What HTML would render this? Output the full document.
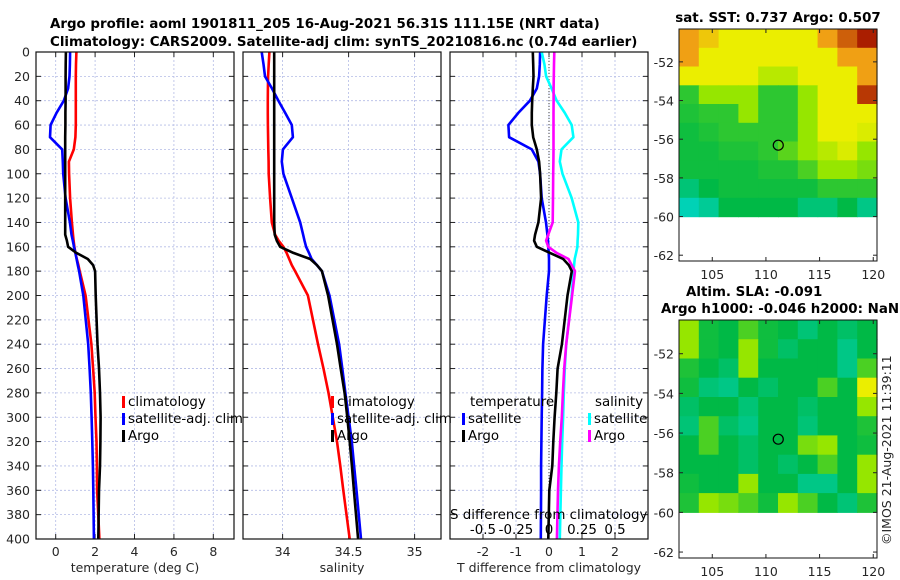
<!DOCTYPE html>
<html><head><meta charset="utf-8"><style>
html,body{margin:0;padding:0;background:#fff;}
svg{display:block;font-family:"DejaVu Sans","Liberation Sans",sans-serif;}
.tk{font-size:12.5px;fill:#262626;}
.ttl{font-size:13.4px;font-weight:bold;fill:#000;}
.lg{font-size:13.4px;fill:#000;}
</style></head><body>
<svg id="c" width="900" height="580" viewBox="0 0 900 580" xmlns="http://www.w3.org/2000/svg">
<text class="ttl" x="50" y="28">Argo profile: aoml 1901811_205 16-Aug-2021 56.31S 111.15E (NRT data)</text>
<text class="ttl" x="50" y="46">Climatology: CARS2009. Satellite-adj clim: synTS_20210816.nc (0.74d earlier)</text>
<text class="ttl" x="778" y="22" text-anchor="middle">sat. SST: 0.737 Argo: 0.507</text>
<text class="ttl" x="686" y="296">Altim. SLA: -0.091</text>
<text class="ttl" x="661" y="313">Argo h1000: -0.046 h2000: NaN</text>
<text class="tk" transform="translate(891,545) rotate(-90)">©IMOS 21-Aug-2021 11:39:11</text>
<g id="g"></g>
</svg>
<script>
// ---------- data ----------
const depth = [0,10,20,30,40,50,60,70,80,90,100,120,140,150,155,160,165,170,175,180,200,240,260,280,300,320,340,360,400];
const tempClim = [1.05,1.03,1.02,1.02,1.02,1.02,1.02,1.0,0.92,0.67,0.68,0.73,0.82,0.88,0.91,0.95,1.0,1.07,1.15,1.22,1.52,1.81,1.9,1.98,2.02,2.07,2.09,2.1,2.22];
const tempSat = [0.73,0.72,0.70,0.63,0.41,0.04,-0.26,-0.29,0.33,0.36,0.38,0.5,0.72,0.8,0.87,0.93,1.0,1.06,1.12,1.19,1.4,1.65,1.72,1.78,1.82,1.86,1.89,1.91,1.94];
const tempArgo = [0.52,0.51,0.50,0.50,0.50,0.49,0.49,0.48,0.48,0.48,0.48,0.48,0.48,0.48,0.57,0.63,1.05,1.63,1.9,2.0,2.03,2.12,2.2,2.25,2.28,2.27,2.25,2.2,2.16];
const salClim = [33.9,33.895,33.89,33.889,33.888,33.888,33.889,33.89,33.892,33.894,33.895,33.905,33.918,33.943,33.97,34.006,34.03,34.05,34.07,34.095,34.192,34.268,34.31,34.348,34.38,34.412,34.437,34.46,34.508];
const salSat = [33.842,33.855,33.867,33.92,33.968,34.02,34.07,34.078,34.002,33.994,34.006,34.07,34.133,34.155,34.166,34.178,34.2,34.22,34.26,34.298,34.355,34.428,34.452,34.476,34.5,34.524,34.542,34.56,34.594];
const salArgo = [33.936,33.936,33.936,33.936,33.936,33.936,33.936,33.936,33.936,33.936,33.936,33.936,33.936,33.94,33.956,33.981,34.082,34.209,34.26,34.298,34.345,34.412,34.44,34.47,34.49,34.508,34.525,34.54,34.572];
const dTempSat = [-0.27,-0.28,-0.3,-0.37,-0.58,-0.93,-1.23,-1.21,-0.52,-0.32,-0.27,-0.22,-0.09,-0.05,-0.03,-0.02,-0.01,0,0,0,-0.07,-0.18,-0.2,-0.21,-0.22,-0.23,-0.24,-0.24,-0.25];
const dTempArgo = [-0.49,-0.48,-0.47,-0.49,-0.51,-0.52,-0.52,-0.48,-0.37,-0.3,-0.27,-0.24,-0.32,-0.42,-0.45,-0.37,0.03,0.43,0.6,0.69,0.56,0.39,0.26,0.22,0.17,0.13,0.1,0.01,-0.02];
const dSalSat = [-0.055,-0.035,-0.022,0.02,0.058,0.12,0.172,0.185,0.095,0.082,0.102,0.172,0.222,0.22,0.217,0.215,0.205,0.195,0.19,0.185,0.172,0.13,0.12,0.112,0.107,0.1,0.095,0.09,0.082];
const dSalArgo = [0.04,0.038,0.036,0.035,0.035,0.034,0.034,0.034,0.034,0.033,0.032,0.03,0.028,-0.005,-0.022,-0.005,0.058,0.148,0.172,0.197,0.175,0.13,0.115,0.105,0.097,0.085,0.075,0.068,0.06];
const depthTicks = [0,20,40,60,80,100,120,140,160,180,200,220,240,260,280,300,320,340,360,380,400];
const tempTicks = [0,2,4,6,8];
const salTicks = [34,34.5,35];
const salTickLabels = ["34","34.5","35"];
const dTTicks = [-2,-1,0,1,2];
const dSTicks = [-0.5,-0.25,0,0.25,0.5];
const dSTickLabels = ["-0.5","-0.25","0","0.25","0.5"];
const lonTicks = [105,110,115,120];
const latTicks = [-52,-54,-56,-58,-60,-62];
const argoLon = 111.15, argoLat = -56.31;
const sstGrid = [
[4,3.5,3,3,3,3,3,4,4.5,5],
[4,3,3,3,3,3,3,3,4,4],
[3,3,3,3,2.4,2.4,3,3,3,4],
[1.3,2,2,2,1.3,1.3,2,3,3,4.8],
[1.2,1.3,1.3,2,1.3,1.3,2,3,3,3],
[1.1,1.2,1.3,1.3,1.3,1.3,2,3,3,2.8],
[1.1,1.1,1.2,1.2,1.3,1.6,2,2.4,2.8,2],
[1.1,1.1,1.1,1.1,1.2,1.2,1.5,2,2,1.8],
[0.7,1,1.1,1.1,1.1,1.1,1.1,1.3,1.3,1.3],
[0.3,0.5,1,1,1,1,0.7,0.7,1,0.6]];
const slaGrid = [
[2,1.1,1,1.5,1.1,1,0.7,1,0.8,1],
[2,1.1,1,2,1.1,0.8,1,1,0.6,1],
[1.2,1,0.8,2,1,1,1,1,0.6,1.5],
[1.1,0.7,0.6,1,0.8,1,1,1.5,1,3],
[0.8,1,1,0.7,1,1,0.8,1,1,2],
[0.7,1.5,0.8,0.6,1,1,0.7,1,1,1.2],
[1,1.5,1,0.8,1,1,1.8,2,1,1.1],
[1,1,1,0.8,1,0.8,1,1.5,1,2],
[1.1,1,1,2,1,1,0.6,0.6,1,2],
[1.2,2,1.8,1.5,1.1,2,1.5,1,0.7,1.2]];

// ---------- helpers ----------
const NS="http://www.w3.org/2000/svg";
const G=document.getElementById('g');
function el(t,a,p){const e=document.createElementNS(NS,t);for(const k in a)e.setAttribute(k,a[k]);(p||G).appendChild(e);return e;}
const y0=52,y1=539;
const yD=d=>y0+(d/400)*(y1-y0);
const panels={
 t:{x0:36,x1:234,lo:-1,hi:9.05},
 s:{x0:243,x1:441,lo:33.7,hi:35.2},
 d:{x0:450,x1:648,lo:-3,hi:3}
};
function sx(p,v){return p.x0+(v-p.lo)/(p.hi-p.lo)*(p.x1-p.x0);}
const xS=v=>sx(panels.d,v*4);

function frame(p,name,xt,xl,xtitle,showY){
  const g=el('g',{});
  
  
  depthTicks.forEach(d=>{
    const l=el('line',{x1:p.x0,x2:p.x1,y1:yD(d),y2:yD(d),stroke:'#b4bce6','stroke-width':0.8,'stroke-dasharray':'2,2'},g);
    
    
    el('line',{x1:p.x0,x2:p.x0+5,y1:yD(d),y2:yD(d),stroke:'#222'},g);
    el('line',{x1:p.x1-5,x2:p.x1,y1:yD(d),y2:yD(d),stroke:'#222'},g);
    if(showY){const t=el('text',{x:30,y:yD(d)+4.5,'text-anchor':'end',class:'tk'},g);t.textContent=d;
      
      }
  });
  xt.forEach((v,i)=>{
    const x=sx(p,v);
    const l=el('line',{x1:x,x2:x,y1:y0,y2:y1,stroke:'#b4bce6','stroke-width':0.8,'stroke-dasharray':'2,2'},g);
    
    
    el('line',{x1:x,x2:x,y1:y1-5,y2:y1,stroke:'#222'},g);
    el('line',{x1:x,x2:x,y1:y0,y2:y0+5,stroke:'#222'},g);
    const t=el('text',{x:x,y:556,'text-anchor':'middle',class:'tk','font-size':'13'},g);t.textContent=xl[i];
    
    
  });
  const tt=el('text',{x:(p.x0+p.x1)/2,y:572,'text-anchor':'middle',class:'tk','font-size':'13.4'},g);tt.textContent=xtitle;
  
  
  return g;
}
function line(vals,fx,color,name){
  const pts=vals.map((v,i)=>fx(v).toFixed(1)+','+yD(depth[i]).toFixed(1)).join(' ');
  const pl=el('polyline',{points:pts,fill:'none',stroke:color,'stroke-width':2.6,'stroke-linejoin':'round'});
  
  
}
function box(p){const r=el('rect',{x:p.x0,y:y0,width:p.x1-p.x0,height:y1-y0,fill:'none',stroke:'#111','stroke-width':1.2});
  
  }
function legend(x,y,color,label,name){
  el('rect',{x:x,y:y-10,width:3,height:12,fill:color});
  const t=el('text',{x:x+6,y:y,class:'lg'});t.textContent=label;
  
  
}

const P1=panels.t;
frame(P1,'temperature-panel',tempTicks,tempTicks.map(String),'temperature (deg C)',true);
line(tempClim,v=>sx(P1,v),'#ff0000','temp-climatology-line');
line(tempSat,v=>sx(P1,v),'#0000ff','temp-satellite-line');
line(tempArgo,v=>sx(P1,v),'#000000','temp-argo-line');
box(P1);
legend(122,406,'#ff0000','climatology','legend-climatology');
legend(122,423,'#0000ff','satellite-adj. clim','legend-satellite');
legend(122,440,'#000000','Argo','legend-argo');

const P2=panels.s;
frame(P2,'salinity-panel',salTicks,salTickLabels,'salinity',false);
line(salClim,v=>sx(P2,v),'#ff0000','sal-climatology-line');
line(salSat,v=>sx(P2,v),'#0000ff','sal-satellite-line');
line(salArgo,v=>sx(P2,v),'#000000','sal-argo-line');
box(P2);
legend(331,406,'#ff0000','climatology','legend-sal-climatology');
legend(331,423,'#0000ff','satellite-adj. clim','legend-sal-satellite');
legend(331,440,'#000000','Argo','legend-sal-argo');

const P3=panels.d;
frame(P3,'difference-panel',dTTicks,dTTicks.map(String),'T difference from climatology',false);
const zl=el('line',{x1:sx(P3,0),x2:sx(P3,0),y1:y0,y2:yD(360),stroke:'#444','stroke-width':1,'stroke-dasharray':'1,2'});


line(dTempSat,v=>sx(P3,v),'#0000ff','dtemp-satellite-line');
line(dSalSat,xS,'#00ffff','dsal-satellite-line');
line(dSalArgo,xS,'#ff00ff','dsal-argo-line');
line(dTempArgo,v=>sx(P3,v),'#000000','dtemp-argo-line');
box(P3);
{const t=el('text',{x:470,y:406,class:'lg'});t.textContent='temperature';
 
 
 const s=el('text',{x:595,y:406,class:'lg'});s.textContent='salinity';
 
 }
legend(462,423,'#0000ff','satellite','legend-dtemp-satellite');
legend(462,440,'#000000','Argo','legend-dtemp-argo');
legend(588,423,'#00ffff','satellite','legend-dsal-satellite');
legend(588,440,'#ff00ff','Argo','legend-dsal-argo');
{const t=el('text',{x:450,y:519,class:'lg'});t.textContent='S difference from climatology';
 
 }
dSTicks.forEach((v,i)=>{const t=el('text',{x:xS(v),y:534,'text-anchor':'middle',class:'lg'});t.textContent=dSTickLabels[i];
 
 });

// ---------- maps ----------
const cmapStops=[[0,[0,220,230]],[1,[0,185,70]],[2,[150,230,0]],[3,[235,238,0]],[4,[240,160,20]],[5,[170,30,0]]];
function cmap(v){v=Math.max(0,Math.min(5,v));const i=Math.min(4,Math.floor(v)),f=v-i;const a=cmapStops[i][1],b=cmapStops[i+1][1];
 return 'rgb('+a.map((c,k)=>Math.round(c+(b[k]-c)*f)).join(',')+')';}
function map(m,grid,name){
  const lonX=lo=>m.x0+(lo-m.lonLo)/(m.lonHi-m.lonLo)*(m.x1-m.x0);
  const latY=la=>m.y0+(m.latHi-la)/(m.latHi-m.latLo)*(m.y1-m.y0);
  const g=el('g',{});
  
  
  const rows=grid.length,cols=grid[0].length;
  const top=m.latHi,bot=-60,dLat=(top-bot)/rows,dLon=(m.lonHi-m.lonLo)/cols;
  grid.forEach((row,r)=>row.forEach((v,c)=>{
    const xa=lonX(m.lonLo+c*dLon),xb=lonX(m.lonLo+(c+1)*dLon),ya=latY(top-r*dLat),yb=latY(top-(r+1)*dLat);
    const cell=el('rect',{x:xa.toFixed(1),y:ya.toFixed(1),width:(xb-xa+0.6).toFixed(1),height:(yb-ya+0.6).toFixed(1),fill:cmap(v)},g);
    
    
  }));
  el('rect',{x:m.x0,y:m.y0,width:m.x1-m.x0,height:m.y1-m.y0,fill:'none',stroke:'#111','stroke-width':1},g);
  lonTicks.forEach(lo=>{const x=lonX(lo);el('line',{x1:x,x2:x,y1:m.y1-4,y2:m.y1,stroke:'#222'},g);el('line',{x1:x,x2:x,y1:m.y0,y2:m.y0+4,stroke:'#222'},g);
    const t=el('text',{x:x,y:m.y1+18,'text-anchor':'middle',class:'tk','font-size':'13'},g);t.textContent=lo;
    
    });
  latTicks.forEach(la=>{const y=latY(la);el('line',{x1:m.x0,x2:m.x0+4,y1:y,y2:y,stroke:'#222'},g);el('line',{x1:m.x1-4,x2:m.x1,y1:y,y2:y,stroke:'#222'},g);
    const t=el('text',{x:m.x0-5,y:y+5,'text-anchor':'end',class:'tk','font-size':'13'},g);t.textContent=la;
    
    });
  const ci=el('circle',{cx:lonX(argoLon),cy:latY(argoLat),r:5,fill:'none',stroke:'#000','stroke-width':1.2},g);
  
  
}
map({x0:679,x1:877,y0:29,y1:261,lonLo:101.9,lonHi:120.35,latLo:-62.3,latHi:-50.3},sstGrid,'sst-map');
map({x0:679,x1:877,y0:320,y1:558,lonLo:101.9,lonHi:120.35,latLo:-62.3,latHi:-50.3},slaGrid,'sla-map');
</script>
</body></html>
